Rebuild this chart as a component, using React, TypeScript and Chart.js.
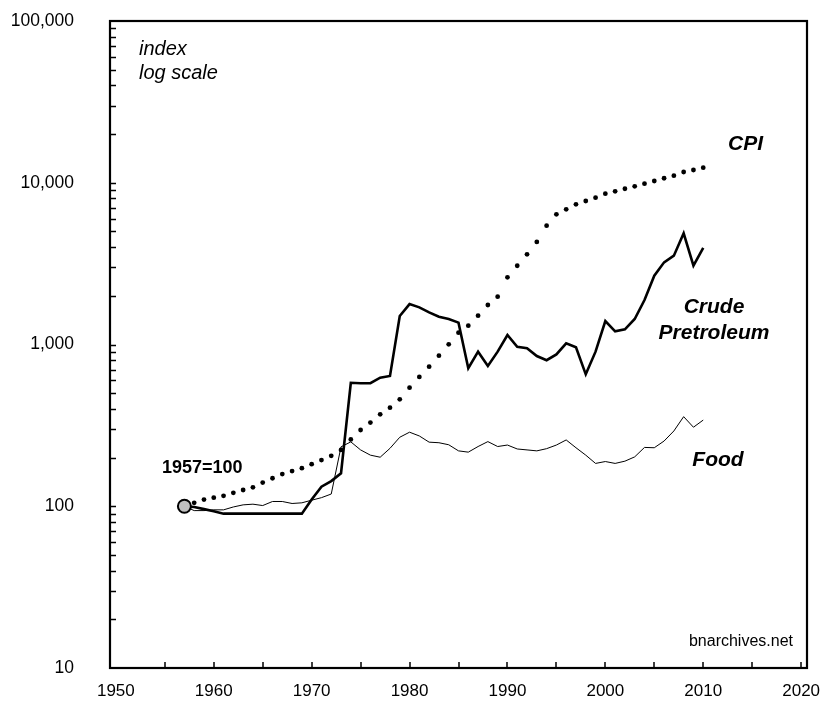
import React, { useEffect, useRef } from 'react';
import { Chart, registerables } from 'chart.js';

Chart.register(...registerables);

const YEARS = [
  1957, 1958, 1959, 1960, 1961, 1962, 1963, 1964, 1965, 1966,
  1967, 1968, 1969, 1970, 1971, 1972, 1973, 1974, 1975, 1976,
  1977, 1978, 1979, 1980, 1981, 1982, 1983, 1984, 1985, 1986,
  1987, 1988, 1989, 1990, 1991, 1992, 1993, 1994, 1995, 1996,
  1997, 1998, 1999, 2000, 2001, 2002, 2003, 2004, 2005, 2006,
  2007, 2008, 2009, 2010,
];

const CPI = [
  100, 105, 110, 113, 116, 121, 126, 131, 140, 149,
  158, 165, 172, 182, 193, 205, 223, 259, 296, 329,
  370, 407, 458, 541, 630, 729, 853, 1003, 1183, 1307,
  1507, 1755, 1976, 2603, 3069, 3611, 4305, 5430, 6383, 6854,
  7360, 7711, 8083, 8556, 8852, 9183, 9504, 9866, 10253, 10660,
  11061, 11650, 11990, 12390,
];

const CRUDE = [
  100, 99, 96, 93, 90, 90, 90, 90, 90, 90,
  90, 90, 90, 110, 132, 143, 160, 580, 576, 576,
  623, 639, 1500, 1778, 1697, 1581, 1486, 1438, 1365, 713,
  903, 736, 903, 1145, 969, 948, 849, 800, 868, 1017,
  961, 654, 903, 1397, 1207, 1242, 1438, 1884, 2661, 3220,
  3540, 4866, 3070, 3963,
];

const FOOD = [
  100, 94, 94, 95, 95, 99, 102, 103, 101, 107,
  107, 104, 105, 109, 113, 119, 233, 250, 223, 207,
  201, 228, 267, 287, 272, 249, 247, 240, 220, 216,
  234, 251, 234, 239, 226, 223, 220, 227, 239, 257,
  230, 207, 184, 189, 184, 190, 202, 231, 230, 253,
  292, 358, 308, 341,
];

const BASE_YEAR = 1957;
const BASE_VALUE = 100;

const X_LABEL_TICKS = [1950, 1960, 1970, 1980, 1990, 2000, 2010, 2020];
const X_MARK_TICKS = [1955, 1960, 1965, 1970, 1975, 1980, 1985, 1990, 1995, 2000, 2005, 2010, 2015, 2020];
const Y_LABEL_TICKS = [10, 100, 1000, 10000, 100000];
const Y_DECADES = [10, 100, 1000, 10000];
const Y_MULTS = [1, 2, 3, 4, 5, 6, 7, 8, 9];

const FONT = '"Liberation Sans", Arial, Helvetica, sans-serif';

const framePlugin = {
  id: 'frameAndText',
  afterDraw(chart: any) {
    const { ctx, chartArea: a, scales } = chart;
    const xs = scales.x;
    const ys = scales.y;
    ctx.save();
    ctx.strokeStyle = '#000';
    ctx.lineWidth = 1.5;
    ctx.beginPath();
    for (const v of X_MARK_TICKS) {
      const px = Math.round(xs.getPixelForValue(v));
      ctx.moveTo(px, a.bottom);
      ctx.lineTo(px, a.bottom - 6);
    }
    for (const d of Y_DECADES) {
      for (const m of Y_MULTS) {
        const v = d * m;
        if (v <= 10) continue;
        const py = Math.round(ys.getPixelForValue(v)) + 0.5;
        ctx.moveTo(a.left, py);
        ctx.lineTo(a.left + 6, py);
      }
    }
    ctx.stroke();
    ctx.lineWidth = 2.2;
    ctx.strokeRect(a.left, a.top, a.right - a.left, a.bottom - a.top);

    ctx.fillStyle = '#000';
    ctx.textBaseline = 'alphabetic';
    ctx.textAlign = 'left';
    ctx.font = 'italic 20px ' + FONT;
    ctx.fillText('index', 139, 55);
    ctx.fillText('log scale', 139, 79);

    ctx.font = 'italic bold 21px ' + FONT;
    ctx.fillText('CPI', 728, 150);
    ctx.textAlign = 'center';
    ctx.fillText('Crude', 714, 313);
    ctx.fillText('Pretroleum', 714, 339);
    ctx.fillText('Food', 718, 466);

    ctx.textAlign = 'left';
    ctx.font = 'bold 18px ' + FONT;
    ctx.fillText('1957=100', 162, 473);

    ctx.textAlign = 'right';
    ctx.font = '16px ' + FONT;
    ctx.fillText('bnarchives.net', 793, 646);
    ctx.restore();
  },
};

export default function App() {
  const ref = useRef<HTMLCanvasElement | null>(null);

  useEffect(() => {
    if (!ref.current) return;
    const pts = (vals: number[]) => YEARS.map((yr, i) => ({ x: yr, y: vals[i] }));
    const chart = new Chart(ref.current, {
      type: 'line',
      data: {
        datasets: [
          {
            label: 'base',
            data: [{ x: BASE_YEAR, y: BASE_VALUE }],
            showLine: false,
            pointRadius: 6.5,
            pointBackgroundColor: '#c0c0c0',
            pointBorderColor: '#000',
            pointBorderWidth: 2,
            order: 0,
          },
          {
            label: 'CPI',
            data: pts(CPI),
            showLine: false,
            pointRadius: 2.4,
            pointBackgroundColor: '#000',
            pointBorderColor: '#000',
            pointBorderWidth: 0,
            order: 1,
          },
          {
            label: 'Crude Pretroleum',
            data: pts(CRUDE),
            borderColor: '#000',
            borderWidth: 2.6,
            pointRadius: 0,
            tension: 0,
            order: 2,
          },
          {
            label: 'Food',
            data: pts(FOOD),
            borderColor: '#000',
            borderWidth: 1,
            pointRadius: 0,
            tension: 0,
            order: 3,
          },
        ],
      },
      options: {
        animation: false,
        responsive: false,
        devicePixelRatio: 1,
        layout: { padding: { top: 21, right: 22, left: 0, bottom: 0 } },
        plugins: { legend: { display: false }, tooltip: { enabled: false } },
        scales: {
          x: {
            type: 'linear',
            min: 1949.4,
            max: 2020.6,
            grid: { display: false, drawTicks: false },
            border: { display: false },
            afterBuildTicks: (s: any) => {
              s.ticks = X_LABEL_TICKS.map((v) => ({ value: v }));
            },
            afterFit: (s: any) => {
              s.height = 43;
              s.paddingLeft = 0;
              s.paddingRight = 0;
            },
            ticks: {
              autoSkip: false,
              maxRotation: 0,
              padding: 13,
              color: '#000',
              font: { family: FONT, size: 17 },
              callback: (v: any) => String(v),
            },
          },
          y: {
            type: 'logarithmic',
            min: 10,
            max: 100000,
            grid: { display: false, drawTicks: false },
            border: { display: false },
            afterBuildTicks: (s: any) => {
              s.ticks = Y_LABEL_TICKS.map((v) => ({ value: v }));
            },
            afterFit: (s: any) => {
              s.width = 110;
              s.paddingTop = 0;
              s.paddingBottom = 0;
            },
            ticks: {
              autoSkip: false,
              padding: 36,
              color: '#000',
              font: { family: FONT, size: 17.5 },
              callback: (v: any) => Number(v).toLocaleString('en-US'),
            },
          },
        },
      },
      plugins: [framePlugin],
    } as any);
    return () => chart.destroy();
  }, []);

  return (
    <div style={{ position: 'fixed', left: 0, top: 0, width: 829, height: 711, background: '#fff' }}>
      <canvas ref={ref} width={829} height={711} style={{ display: 'block' }} />
    </div>
  );
}
